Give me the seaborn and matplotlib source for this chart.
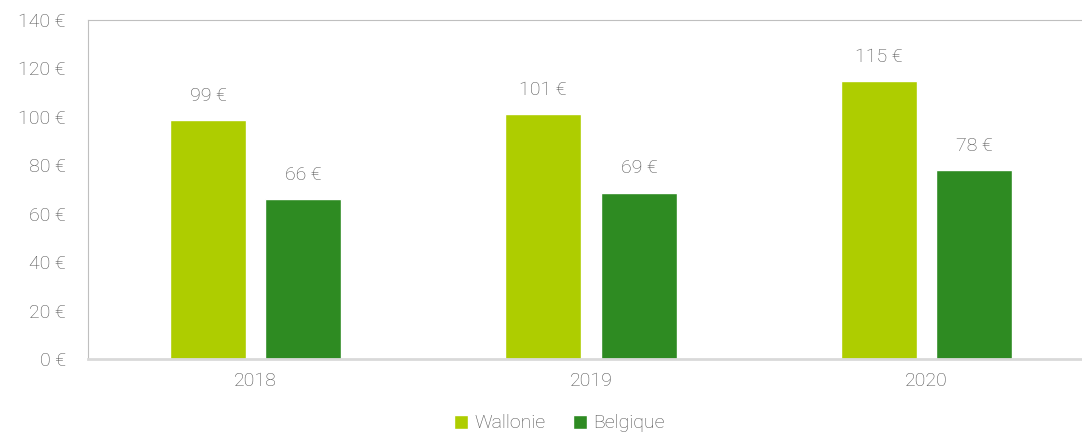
import pandas as pd
import matplotlib.pyplot as plt
import seaborn as sns

# Données
annees = ["2018", "2019", "2020"]
wallonie = [98.6, 101.2, 114.8]
belgique = [66.1, 68.7, 78.1]
series = ["Wallonie", "Belgique"]
couleurs = ["#AECD00", "#2E8B22"]

df = pd.DataFrame({
    "annee": annees * 2,
    "valeur": wallonie + belgique,
    "serie": [series[0]] * 3 + [series[1]] * 3,
})

sns.set_style("white")
plt.rcParams['font.family'] = ['Roboto', 'DejaVu Sans']
plt.rcParams['font.weight'] = 'light'
gris = "#505050"

fig = plt.figure(figsize=(10.82, 4.34), dpi=100)
ax = fig.add_axes([88 / 1082, 1 - 359 / 434, 1 - 88 / 1082, 339 / 434])

sns.barplot(data=df, x="annee", y="valeur", hue="serie", palette=couleurs,
            saturation=1, width=0.57, gap=0.205, ax=ax, legend=True)

for cont in ax.containers:
    ax.bar_label(cont, labels=[f"{v:.0f} €" for v in cont.datavalues],
                 padding=11, fontsize=14, color=gris, fontweight="light")

ax.set_ylim(0, 140)
ax.set_xlim(-0.5, 2.464)
ax.set_yticks(range(0, 141, 20))
ax.set_yticklabels([f"{v} €" for v in range(0, 141, 20)])
ax.set_xlabel("")
ax.set_ylabel("")
ax.tick_params(axis="both", length=0, labelsize=14, labelcolor=gris)
ax.tick_params(axis="y", pad=16)
ax.tick_params(axis="x", pad=9)

ax.spines["left"].set_color("#BFBFBF")
ax.spines["top"].set_color("#BFBFBF")
ax.spines["bottom"].set_color("#D9D9D9")
ax.spines["bottom"].set_linewidth(2)
ax.spines["right"].set_visible(False)

leg = ax.legend(loc="center", bbox_to_anchor=(0.474, -0.19),
                ncol=2, frameon=False, fontsize=14, handlelength=0.75,
                handleheight=0.75, handletextpad=0.3, columnspacing=1.4,
                labelcolor=gris)

fig.savefig("out.png", dpi=100)
